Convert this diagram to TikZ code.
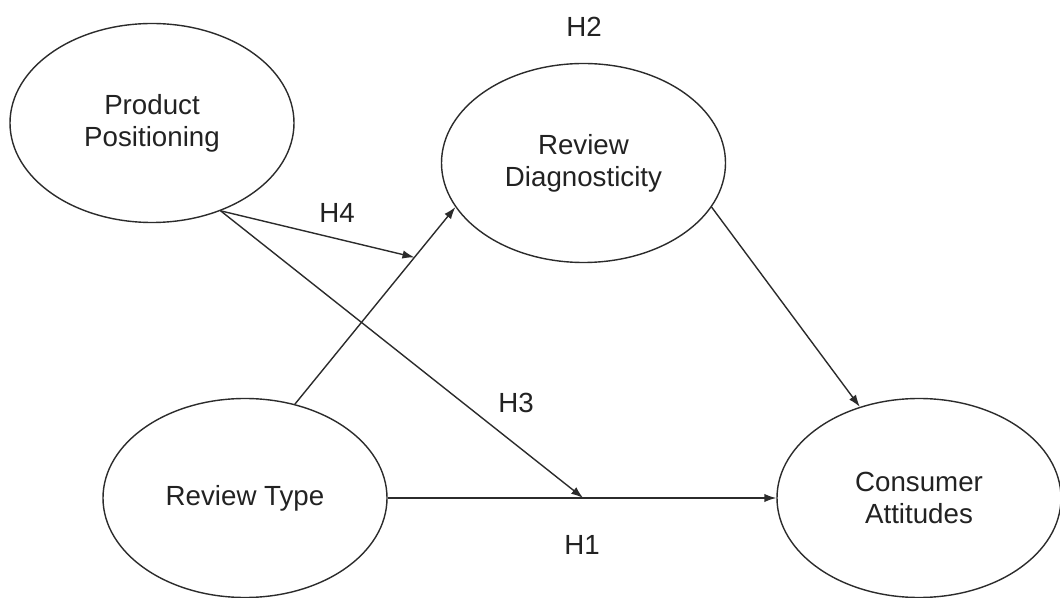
\documentclass[tikz,border=0pt]{standalone}
\usepackage{fontspec}
\setmainfont{Liberation Sans}
\usetikzlibrary{shapes.geometric,arrows.meta,calc}
\definecolor{linegray}{HTML}{2B2B2B}
\definecolor{textgray}{HTML}{222222}
\begin{document}
\begin{tikzpicture}[x=0.5pt,y=-0.5pt,
  labelfont/.style={font=\fontsize{13.85}{16}\selectfont},
  construct/.style={ellipse,draw=linegray,line width=0.7pt,
    minimum width=142pt,minimum height=99.5pt,inner sep=0pt,
    align=center,text=textgray,labelfont},
  hlabel/.style={text=textgray,inner sep=0pt,labelfont},
  link/.style={draw=linegray,line width=0.7pt,-{Latex[length=6pt,width=4.2pt]}}]
  \useasboundingbox (0,0) rectangle (1060,598);

  % constructs of the model
  \node[construct] (pp) at (152,123)   {Product\\Positioning};
  \node[construct] (rd) at (583.5,163) {Review\\Diagnosticity};
  \node[construct] (rt) at (245,498)   {Review Type};
  \node[construct] (ca) at (919,498)   {Consumer\\Attitudes};

  % paths between constructs
  \draw[link] (rt.62) -- (rd.199);
  \draw[link] (rd.-19) -- (ca.123);
  \draw[link] (rt.east) -- (ca.west);

  % moderation points on the paths
  \coordinate (h4) at ($(rt.62)!0.745!(rd.199)$);
  \coordinate (h3) at ($(rt.east)!0.503!(ca.west)$);
  \draw[link] (pp.-52) -- (h4);
  \draw[link] (pp.-52) -- (h3);

  % hypothesis labels
  \node[hlabel] (lh2) at (584,27)  {H2};
  \node[hlabel] (lh4) at (337,213) {H4};
  \node[hlabel] (lh3) at (516,403) {H3};
  \node[hlabel] (lh1) at (582,545) {H1};
\end{tikzpicture}
\end{document}
